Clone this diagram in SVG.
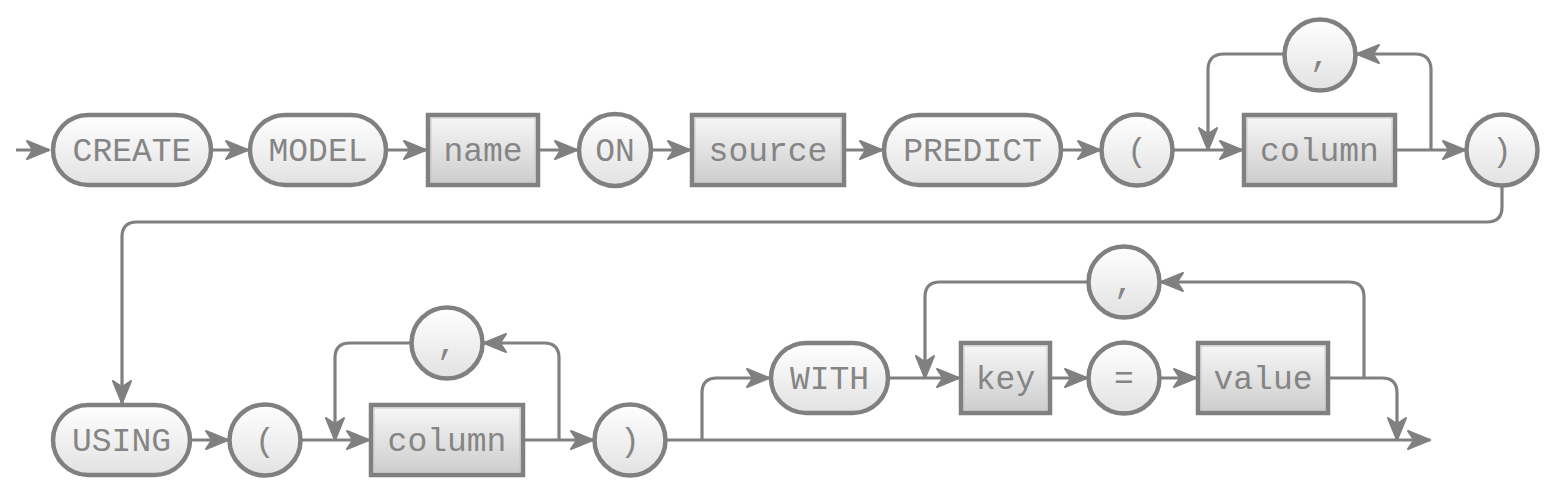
<svg xmlns="http://www.w3.org/2000/svg" width="1556" height="494" viewBox="0 0 1556 494">
<defs>
<linearGradient id="gt" x1="0" y1="0" x2="0" y2="1">
<stop offset="0" stop-color="#ffffff"/>
<stop offset="1" stop-color="#e2e2e2"/>
</linearGradient>
<linearGradient id="gn" x1="0" y1="0" x2="0" y2="1">
<stop offset="0" stop-color="#f8f8f8"/>
<stop offset="1" stop-color="#cccccc"/>
</linearGradient>
<marker id="ah" viewBox="0 0 24 22" markerWidth="24" markerHeight="22" refX="23" refY="11" orient="auto" markerUnits="userSpaceOnUse">
<path d="M1,2 L23,11 L1,20 L7,11 z" fill="#808080" stroke="#808080" stroke-width="2" stroke-linejoin="round"/>
</marker>
<style>
.t{fill:url(#gt);stroke:#808080;stroke-width:4.5}
.n{fill:url(#gn);stroke:#808080;stroke-width:4.5}
.in{fill:none;stroke:#c8c8c8;stroke-width:1}
text{font-family:"Liberation Mono","DejaVu Sans Mono",monospace;font-size:33px;fill:#858585;text-anchor:middle}
.c path{fill:none;stroke:#808080;stroke-width:3.2}
.c path.a{marker-end:url(#ah)}
</style>
</defs>
<rect width="1556" height="494" fill="#ffffff"/>
<g class="c" id="connectors">
<path class="a" d="M16,150 H49"/>
<path class="a" d="M213,150 H248"/>
<path class="a" d="M388,150 H426"/>
<path class="a" d="M540,150 H577"/>
<path class="a" d="M653,150 H690"/>
<path class="a" d="M846,150 H882"/>
<path class="a" d="M1063,150 H1100"/>
<path class="a" d="M1174,150 H1242"/>
<path class="a" d="M1397,150 H1465"/>
<path class="a" d="M1431,150 V70 Q1431,54 1415,54 H1357"/>
<path class="a" d="M1283,54 H1224 Q1208,54 1208,70 V150"/>
<path class="a" d="M1502,187 V207 Q1502,222 1487,222 H137 Q122,222 122,237 V403"/>
<path class="a" d="M192,440 H228"/>
<path class="a" d="M302,440 H369"/>
<path class="a" d="M559,440 V358 Q559,343 544,343 H484"/>
<path class="a" d="M410,343 H350 Q335,343 335,358 V440"/>
<path class="a" d="M525,440 H593"/>
<path class="a" d="M667,440 H1430"/>
<path class="a" d="M702,440 V393 Q702,378 717,378 H769"/>
<path class="a" d="M890,378 H959"/>
<path class="a" d="M1087,282 H940 Q925,282 925,297 V378"/>
<path class="a" d="M1052,378 H1087"/>
<path class="a" d="M1161,378 H1196"/>
<path class="a" d="M1364,378 V297 Q1364,282 1349,282 H1161"/>
<path class="a" d="M1330,378 H1382 Q1397,378 1397,393 V440"/>
</g>
<g id="n-create"><rect class="t" x="53" y="115" width="158" height="70" rx="35"/><text x="132" y="161">CREATE</text></g>
<g id="n-model"><rect class="t" x="250" y="115" width="136" height="70" rx="35"/><text x="318" y="161">MODEL</text></g>
<g id="n-name"><rect class="n" x="428" y="115" width="110" height="70"/><rect class="in" x="431" y="118" width="104" height="64"/><text x="483" y="161">name</text></g>
<g id="n-on"><circle class="t" cx="615" cy="150" r="36"/><text x="615" y="161">ON</text></g>
<g id="n-source"><rect class="n" x="692" y="115" width="152" height="70"/><rect class="in" x="695" y="118" width="146" height="64"/><text x="768" y="161">source</text></g>
<g id="n-predict"><rect class="t" x="884" y="115" width="177" height="70" rx="35"/><text x="972.5" y="161">PREDICT</text></g>
<g id="n-lparen1"><circle class="t" cx="1137" cy="150" r="35.5"/><text x="1137" y="161">(</text></g>
<g id="n-column1"><rect class="n" x="1244" y="115" width="151" height="70"/><rect class="in" x="1247" y="118" width="145" height="64"/><text x="1319.5" y="161">column</text></g>
<g id="n-comma1"><circle class="t" cx="1320" cy="55" r="35.5"/><text x="1320" y="66">,</text></g>
<g id="n-rparen1"><circle class="t" cx="1502" cy="150" r="35.5"/><text x="1502" y="161">)</text></g>
<g id="n-using"><rect class="t" x="53" y="405" width="137" height="70" rx="35"/><text x="121.5" y="451">USING</text></g>
<g id="n-lparen2"><circle class="t" cx="265" cy="440" r="35.5"/><text x="265" y="451">(</text></g>
<g id="n-column2"><rect class="n" x="371" y="405" width="152" height="70"/><rect class="in" x="374" y="408" width="146" height="64"/><text x="447" y="451">column</text></g>
<g id="n-comma2"><circle class="t" cx="447" cy="343" r="35.5"/><text x="447" y="354">,</text></g>
<g id="n-rparen2"><circle class="t" cx="630" cy="440" r="35.5"/><text x="630" y="451">)</text></g>
<g id="n-with"><rect class="t" x="771" y="343" width="117" height="70" rx="35"/><text x="829.5" y="389">WITH</text></g>
<g id="n-key"><rect class="n" x="961" y="343" width="89" height="70"/><rect class="in" x="964" y="346" width="83" height="64"/><text x="1005.5" y="389">key</text></g>
<g id="n-eq"><circle class="t" cx="1124" cy="378" r="35.5"/><text x="1124" y="389">=</text></g>
<g id="n-value"><rect class="n" x="1198" y="343" width="130" height="70"/><rect class="in" x="1201" y="346" width="124" height="64"/><text x="1263" y="389">value</text></g>
<g id="n-comma3"><circle class="t" cx="1124" cy="282" r="35.5"/><text x="1124" y="293">,</text></g>
</svg>
